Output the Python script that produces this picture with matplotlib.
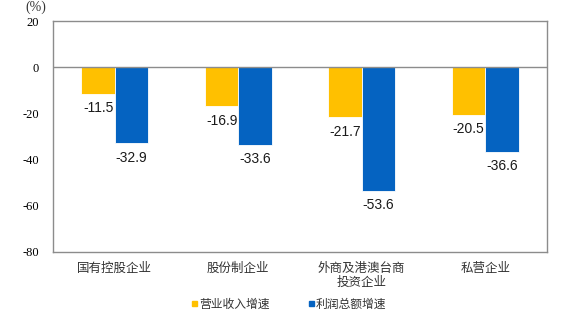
import numpy as np
import matplotlib
matplotlib.use("Agg")
import matplotlib.pyplot as plt
from matplotlib.patches import Rectangle

plt.rcParams['font.family'] = ['Noto Sans CJK SC', 'DejaVu Sans']

# 分经济类型企业营业收入与利润总额增速
categories = ['国有控股企业', '股份制企业', '外商及港澳台商\n投资企业', '私营企业']
revenue_growth = [-11.5, -16.9, -21.7, -20.5]
profit_growth = [-32.9, -33.6, -53.6, -36.6]
series_names = ['营业收入增速', '利润总额增速']
yticks = [20, 0, -20, -40, -60, -80]

c_rev = '#FFC000'
c_pro = '#0563C1'
frame = '#8c8c8c'

fig = plt.figure(figsize=(5.84, 3.35), dpi=100)
ax = fig.add_axes([0.0908, 0.248, 0.8458, 0.689])

x = np.arange(len(categories))
w = 0.27
ax.bar(x - w / 2, revenue_growth, w, color=c_rev, edgecolor='white', linewidth=0.6, zorder=2)
ax.bar(x + w / 2, profit_growth, w, color=c_pro, edgecolor='white', linewidth=0.6, zorder=2)

# value labels under each bar
for i in range(len(categories)):
    ax.text(x[i] - w / 2, revenue_growth[i] - 3.2, f'{revenue_growth[i]:.1f}',
            ha='center', va='top', fontsize=10, family='Liberation Sans', color='#1a1a1a')
    ax.text(x[i] + w / 2, profit_growth[i] - 3.2, f'{profit_growth[i]:.1f}',
            ha='center', va='top', fontsize=10, family='Liberation Sans', color='#1a1a1a')

ax.axhline(0, color=frame, linewidth=1, zorder=3)
ax.set_xlim(-0.5, len(categories) - 0.5)
ax.set_ylim(-80, 20)
ax.set_yticks(yticks)
ax.set_yticklabels([str(v) for v in yticks], family='Liberation Serif', fontsize=9)
ax.tick_params(axis='y', length=0, pad=10)
ax.set_xticks([])
for s in ax.spines.values():
    s.set_color(frame)
    s.set_linewidth(1)

# category names below the plot area
for i, name in enumerate(categories):
    ax.text(x[i], -84.3, name, ha='center', va='top', fontsize=9,
            color='#333333', linespacing=1.15)

fig.text(0.062, 0.977, '(%)', ha='center', va='center', fontsize=10,
         family='Liberation Serif', color='#333333')

# legend
legend_items = [(0.3288, c_rev, series_names[0]), (0.529, c_pro, series_names[1])]
for lx, col, label in legend_items:
    fig.patches.append(Rectangle((lx, 0.0855), 0.0086, 0.0149, transform=fig.transFigure,
                                 color=col, figure=fig))
    fig.text(lx + 0.012, 0.093, label, ha='left', va='center', fontsize=8.5, color='#333333')

fig.savefig('out.png', dpi=100)
